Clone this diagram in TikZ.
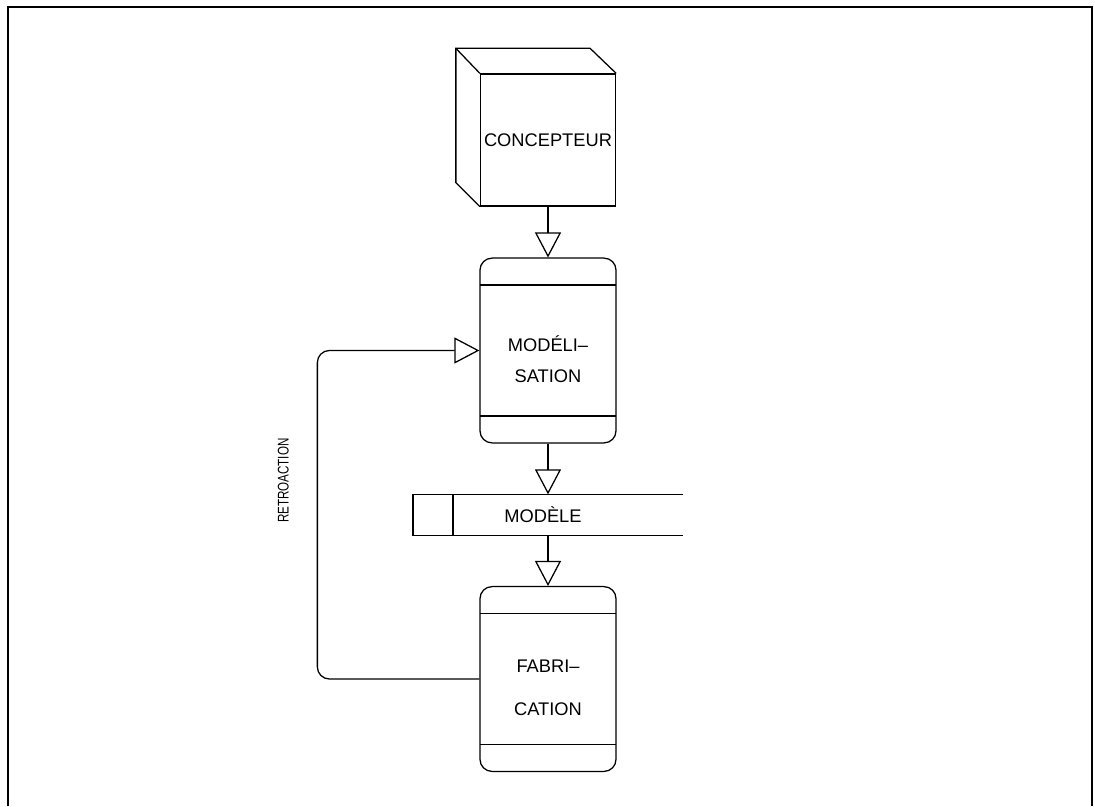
\documentclass[tikz,border=0pt]{standalone}
\usepackage{fontspec}
\setmainfont{Liberation Sans}
\usepackage{graphicx}
\usetikzlibrary{arrows.meta}
\tikzstyle{cube} = [rectangle, draw, minimum width=3.375cm, minimum height=3.3cm,
    inner sep=0pt, font=\fontsize{13}{16}\selectfont]
\tikzstyle{process} = [rectangle, draw, rounded corners=0.3cm, minimum width=3.4cm,
    minimum height=4.62cm, align=center, font=\fontsize{13}{22.7}\selectfont,
    path picture={
      \draw ([yshift=-0.675cm]path picture bounding box.north west) -- ([yshift=-0.675cm]path picture bounding box.north east);
      \draw ([yshift=0.675cm]path picture bounding box.south west) -- ([yshift=0.675cm]path picture bounding box.south east);}]
\tikzstyle{store} = [rectangle, minimum width=6.725cm, minimum height=1cm,
    font=\fontsize{13}{16}\selectfont]
\tikzstyle{line} = [draw, -{Triangle[open, length=0.625cm, width=0.65cm]}]
\tikzstyle{frame} = [draw, line width=1.6pt]

\begin{document}
\begin{tikzpicture}[line width=0.9pt]
    \useasboundingbox (0,0) rectangle (27.375,-20.15);
    % frame
    \draw[frame] (0.2,-20.15) -- (0.2,-0.175) -- (27.3,-0.175) -- (27.3,-20.15);
    % Place nodes
    \node [cube] (Concepteur) at (13.7,-3.5) {CONCEPTEUR};
    \node [process, below of=Concepteur, node distance=5.2625cm] (Modelisation)
        {\rule{0pt}{23.6pt}MODÉLI--\\SATION};
    \node [store, below of=Modelisation, node distance=4.1125cm] (Modele)
        {\hspace*{-0.25cm}MODÈLE};
    \node [process, below of=Modele, node distance=4.1cm] (Fabrication)
        {\rule{0pt}{21.4pt}FABRI--\\[7.8pt]CATION};
    % cube depth
    \draw (Concepteur.south west) -- ++(-0.6,0.6) -- ([shift={(-0.6,0.625)}]Concepteur.north west)
        -- ([shift={(-0.65,0.625)}]Concepteur.north east) -- (Concepteur.north east);
    \draw (Concepteur.north west) -- ++(-0.6,0.625);
    % store outline
    \draw (Modele.north east) -- (Modele.north west) -- (Modele.south west) -- (Modele.south east);
    \draw ([xshift=1cm]Modele.north west) -- ([xshift=1cm]Modele.south west);
    % Draw edges
    \path [line] (Concepteur) -- (Modelisation);
    \path [line] (Modelisation) -- (Modele);
    \path [line] (Modele) -- (Fabrication);
    \path [line, rounded corners=0.3cm] (Fabrication.west) -- ++(-4.05,0)
        |- node[pos=0.302, sloped, above=0.58cm, font=\fontsize{11}{13}\selectfont]
        {\scalebox{0.75}[1]{RETROACTION}} (Modelisation.west);
\end{tikzpicture}
\end{document}
